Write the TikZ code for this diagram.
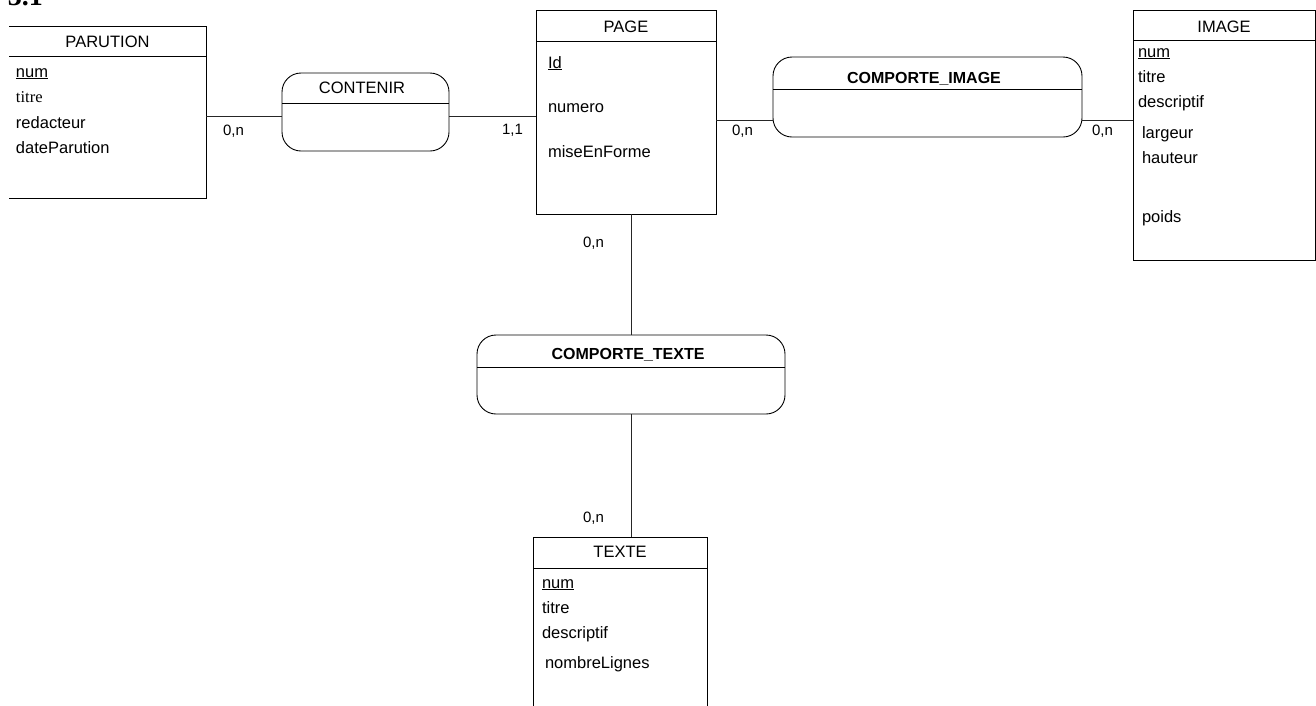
\documentclass[tikz,border=0pt]{standalone}
\usepackage{fontspec}
\setmainfont{Liberation Sans}
\newfontfamily\timesfont{Liberation Serif}
\usetikzlibrary{calc}
\begin{document}
\begin{tikzpicture}[x=1pt,y=-1pt,
  every node/.style={inner sep=0pt,outer sep=0pt,font=\fontsize{16.5}{19}\selectfont},
  ent/.style={draw=black,line width=0.9pt,rectangle},
  rel/.style={draw=black,line width=0.9pt,rectangle,rounded corners=19pt},
  link/.style={draw=black!85,line width=0.9pt},
  attr/.style={anchor=base west},
  ttl/.style={anchor=base},
  card/.style={anchor=base west,font=\fontsize{15}{17}\selectfont},
  relttl/.style={anchor=base,font=\bfseries\fontsize{16}{19}\selectfont}]
\useasboundingbox (0,0) rectangle (1316,705);

% section number (clipped at the top edge, as in the reference)
\node[anchor=base west,font=\timesfont\bfseries\fontsize{28}{30}\selectfont] (sec) at (8,5) {3.1};

% PARUTION (no left edge)
\node[minimum width=197pt,minimum height=172pt] (par) at (107.5,112) {};
\draw[line width=0.9pt] (par.north west) -- (par.north east) -- (par.south east) -- (par.south west);
\draw[line width=0.9pt] (par.west |- 0,56) -- (par.east |- 0,56);
\node[ttl] (parT) at (107.5,47) {PARUTION};
\node[attr] (par1) at (16,77) {\underline{num}};
\node[attr,font=\timesfont\fontsize{16.5}{19}\selectfont] (par2) at (16,102) {titre};
\node[attr] (par3) at (16,128) {redacteur};
\node[attr] (par4) at (16,153) {dateParution};

% PAGE
\node[ent,minimum width=180pt,minimum height=204pt] (page) at (626,112) {};
\draw[line width=0.9pt] (page.west |- 0,41) -- (page.east |- 0,41);
\node[ttl] (pageT) at (626,32) {PAGE};
\node[attr] (page1) at (548,68) {\underline{Id}};
\node[attr] (page2) at (548,112) {numero};
\node[attr] (page3) at (548,157) {miseEnForme};

% IMAGE
\node[ent,minimum width=182pt,minimum height=250pt] (image) at (1224,135) {};
\draw[line width=0.9pt] (image.west |- 0,40) -- (image.east |- 0,40);
\node[ttl] (imageT) at (1224,32) {IMAGE};
\node[attr] (img1) at (1138,57) {\underline{num}};
\node[attr] (img2) at (1138,82) {titre};
\node[attr] (img3) at (1138,107) {descriptif};
\node[attr] (img4) at (1142,138) {largeur};
\node[attr] (img5) at (1142,163) {hauteur};
\node[attr] (img6) at (1142,222) {poids};

% TEXTE
\node[ent,minimum width=174pt,minimum height=190pt] (texte) at (620,632) {};
\draw[line width=0.9pt] (texte.west |- 0,568) -- (texte.east |- 0,568);
\node[ttl] (texteT) at (620,557) {TEXTE};
\node[attr] (tx1) at (542,588) {\underline{num}};
\node[attr] (tx2) at (542,613) {titre};
\node[attr] (tx3) at (542,638) {descriptif};
\node[attr] (tx4) at (545,668) {nombreLignes};

% relations
\node[rel,minimum width=167pt,minimum height=78pt] (cont) at (365.5,112) {};
\draw[line width=0.9pt] (cont.west |- 0,103) -- (cont.east |- 0,103);
\node[ttl] (contT) at (362,93) {CONTENIR};

\node[rel,minimum width=309pt,minimum height=80pt] (ci) at (927.5,97) {};
\draw[line width=0.9pt] (ci.west |- 0,89) -- (ci.east |- 0,89);
\node[relttl] (ciT) at (924,83) {COMPORTE\_IMAGE};

\node[rel,minimum width=308pt,minimum height=79pt] (ct) at (631,374.5) {};
\draw[line width=0.9pt] (ct.west |- 0,367) -- (ct.east |- 0,367);
\node[relttl] (ctT) at (628,359) {COMPORTE\_TEXTE};

% connectors
\coordinate (ya) at (0,116);
\coordinate (yb) at (0,120);
\coordinate (xv) at (631,0);
\draw[link] (par.east |- ya) -- (cont.west |- ya);
\draw[link] (cont.east |- ya) -- (page.west |- ya);
\draw[link] (page.east |- yb) -- (ci.west |- yb);
\draw[link] (ci.east |- yb) -- (image.west |- yb);
\draw[link] (page.south -| xv) -- (ct.north -| xv);
\draw[link] (ct.south -| xv) -- (texte.north -| xv);

% cardinalities
\node[card] (c1) at (223,135) {0,n};
\node[card] (c2) at (502,134) {1,1};
\node[card] (c3) at (732,135) {0,n};
\node[card] (c4) at (1092,135) {0,n};
\node[card] (c5) at (583,247) {0,n};
\node[card] (c6) at (583,522) {0,n};
\end{tikzpicture}
\end{document}
